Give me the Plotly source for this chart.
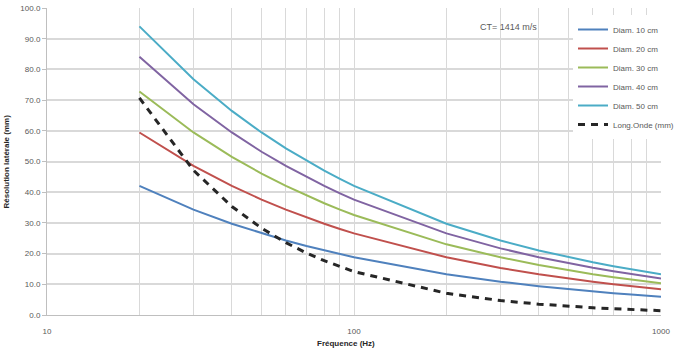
import plotly.graph_objects as go

freq = [20, 30, 40, 50, 60, 70, 80, 90, 100, 200, 300, 400, 500, 600, 700, 800, 900, 1000]
diam10 = [42.04, 34.33, 29.73, 26.59, 24.27, 22.47, 21.02, 19.82, 18.80, 13.29, 10.85, 9.40, 8.41, 7.68, 7.11, 6.65, 6.27, 5.95]
diam20 = [59.45, 48.55, 42.04, 37.60, 34.32, 31.78, 29.73, 28.03, 26.59, 18.80, 15.34, 13.29, 11.89, 10.86, 10.05, 9.40, 8.87, 8.41]
diam30 = [72.82, 59.46, 51.49, 46.06, 42.04, 38.92, 36.41, 34.33, 32.56, 23.02, 18.79, 16.28, 14.57, 13.30, 12.32, 11.52, 10.86, 10.31]
diam40 = [84.08, 68.66, 59.46, 53.18, 48.54, 44.94, 42.04, 39.64, 37.60, 26.58, 21.70, 18.80, 16.82, 15.36, 14.22, 13.30, 12.54, 11.90]
diam50 = [94.01, 76.77, 66.48, 59.46, 54.27, 50.25, 47.00, 44.32, 42.04, 29.72, 24.26, 21.02, 18.81, 17.17, 15.90, 14.87, 14.02, 13.30]
long_onde = [70.70, 47.13, 35.35, 28.28, 23.57, 20.20, 17.68, 15.71, 14.14, 7.07, 4.71, 3.54, 2.83, 2.36, 2.02, 1.77, 1.57, 1.41]

names = ["Diam. 10 cm", "Diam. 20 cm", "Diam. 30 cm", "Diam. 40 cm", "Diam. 50 cm"]
series = [diam10, diam20, diam30, diam40, diam50]
colors = ["#4F81BD", "#C0504D", "#9BBB59", "#8064A2", "#4BACC6"]

font_family = "Liberation Sans, Arial, sans-serif"

fig = go.Figure()
for n, s, c in zip(names, series, colors):
    fig.add_trace(go.Scatter(x=freq, y=s, mode="lines", name=n,
                             line=dict(color=c, width=2)))
fig.add_trace(go.Scatter(x=freq, y=long_onde, mode="lines", name="Long.Onde (mm)",
                         line=dict(color="#262626", width=3, dash="7px,6px")))

grid = "#D9D9D9"
fig.update_layout(
    width=677, height=349,
    margin=dict(l=47, r=16, t=8, b=34, autoexpand=False),
    paper_bgcolor="white", plot_bgcolor="white",
    font=dict(family=font_family, size=8, color="#595959"),
    showlegend=True,
    legend=dict(xref="container", yref="container",
                x=573 / 677, y=1 - 15 / 349, xanchor="left", yanchor="top",
                bgcolor="white", borderwidth=0,
                font=dict(size=8, color="#595959"),
                itemwidth=30, tracegroupgap=0),
    xaxis=dict(type="log", range=[1, 3], automargin=False,
               tickvals=[10, 100, 1000], ticktext=["10", "100", "1000"],
               showgrid=True, gridcolor=grid, gridwidth=1,
               minor=dict(showgrid=True, gridcolor=grid, gridwidth=1, dtick="D1"),
               showline=True, linecolor="#BFBFBF", linewidth=1,
               ticks="", ticklabelstandoff=8, zeroline=False,
               tickfont=dict(size=8, color="#595959")),
    yaxis=dict(range=[0, 100], dtick=10, tickformat=".1f", automargin=False,
               showgrid=True, gridcolor=grid, gridwidth=1.5,
               showline=True, linecolor="#BFBFBF", linewidth=1,
               ticks="outside", ticklen=4, tickcolor="#BFBFBF",
               zeroline=False,
               tickfont=dict(size=8, color="#595959")),
    annotations=[
        dict(text="CT= 1414 m/s", x=(508 - 47) / 614, y=(315 - 27) / 307,
             xref="paper", yref="paper", xanchor="center", yanchor="middle",
             showarrow=False, font=dict(size=9, color="#595959")),
        dict(text="<b>Résolution latérale (mm)</b>", x=(6 - 47) / 614, y=0.5,
             xref="paper", yref="paper", xanchor="center", yanchor="middle",
             textangle=-90, showarrow=False,
             font=dict(size=8, color="#262626")),
        dict(text="<b>Fréquence (Hz)</b>", x=(346 - 47) / 614, y=(315 - 343) / 307,
             xref="paper", yref="paper", xanchor="center", yanchor="middle",
             showarrow=False,
             font=dict(size=8, color="#262626")),
    ],
)

fig.write_html("out.html")
